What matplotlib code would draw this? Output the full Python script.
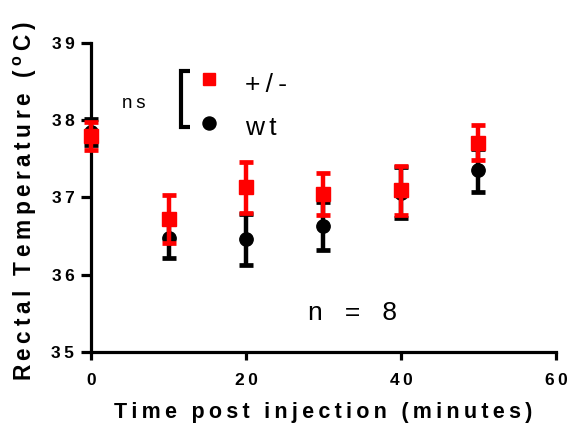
import matplotlib
matplotlib.use("Agg")
import matplotlib.pyplot as plt

# Rectal temperature after injection, mean ± SEM (n = 8 per group)
time_min = [0, 10, 20, 30, 40, 50]
het_mean = [37.79, 36.72, 37.13, 37.04, 37.09, 37.71]
het_sem = [0.18, 0.31, 0.33, 0.27, 0.32, 0.23]
wt_mean = [37.85, 36.48, 36.46, 36.63, 37.06, 37.35]
wt_sem = [0.17, 0.27, 0.33, 0.31, 0.33, 0.28]

x_ticks = [0, 20, 40, 60]
y_ticks = [35, 36, 37, 38, 39]

plt.rcParams["font.family"] = ["Liberation Sans", "DejaVu Sans"]
plt.rcParams["mathtext.fontset"] = "custom"
plt.rcParams["mathtext.bf"] = "Liberation Sans:bold"
plt.rcParams["mathtext.rm"] = "Liberation Sans"

THIN = "\u2009"


def spaced(text, sep=THIN, word_gap=2):
    """Open up letter spacing by placing a separator between characters."""
    words = text.split(" ")
    return (sep * word_gap + " ").join(sep.join(w) for w in words)


fig = plt.figure(figsize=(5.69, 4.29), dpi=100)
ax = fig.add_axes([0.160, 0.1795, 0.817, 0.7205])

err_kw = dict(linestyle="none", elinewidth=3.2, capsize=4.9, capthick=3.4,
              clip_on=False)
ax.errorbar(time_min, wt_mean, yerr=wt_sem, fmt="o", color="black",
            markersize=9.6, zorder=3, **err_kw)
ax.errorbar(time_min, het_mean, yerr=het_sem, fmt="s", color="#ff0000",
            markersize=10, zorder=4, **err_kw)

ax.set_xlim(0, 60)
ax.set_ylim(35, 39)
ax.set_xticks(x_ticks)
ax.set_yticks(y_ticks)
ax.set_xticklabels([spaced(str(t)) for t in x_ticks],
                   fontweight="bold", fontsize=12.5)
ax.set_yticklabels([spaced(str(t)) for t in y_ticks],
                   fontweight="bold", fontsize=12.5)

for side in ("top", "right"):
    ax.spines[side].set_visible(False)
for side in ("left", "bottom"):
    ax.spines[side].set_linewidth(2.3)
ax.tick_params(axis="both", width=2.3, direction="out")
ax.tick_params(axis="x", length=6, pad=9)
ax.tick_params(axis="y", length=7, pad=5)

ax.set_xlabel(spaced("Time post injection (minutes)", THIN, 2),
              fontweight="bold", fontsize=15.5)
ax.set_ylabel(spaced("Rectal Temperature") + THIN * 2 + " ("
              + THIN + "$^{\\mathbf{o}}$" + THIN + "C" + THIN + ")",
              fontweight="bold", fontsize=16.3)
ax.xaxis.set_label_coords(0.499, -0.163)
ax.yaxis.set_label_coords(-0.112, 0.487)

# Group key with significance bracket
tr = ax.transAxes
ax.plot([0.213, 0.194, 0.194, 0.213], [0.909, 0.909, 0.728, 0.728],
        color="black", linewidth=3, transform=tr, clip_on=False,
        solid_capstyle="butt", solid_joinstyle="miter")
ax.plot([0.254], [0.882], marker="s", color="#ff0000", markersize=9.2,
        linestyle="none", transform=tr, clip_on=False)
ax.plot([0.254], [0.742], marker="o", color="black", markersize=9.4,
        linestyle="none", transform=tr, clip_on=False)
ax.text(0.331, 0.864, "+" + THIN + "/" + THIN + "-", fontsize=19,
        transform=tr, ha="left", va="center")
ax.text(0.331, 0.725, "w" + THIN + "t", fontsize=19, transform=tr,
        ha="left", va="center")
ax.text(0.066, 0.804, "n" + THIN + "s", fontsize=13.5, transform=tr,
        ha="left", va="center")

ax.text(0.562, 0.126, "n   =   8", fontsize=19, transform=tr,
        ha="center", va="center")

fig.savefig("out.png", dpi=100)
